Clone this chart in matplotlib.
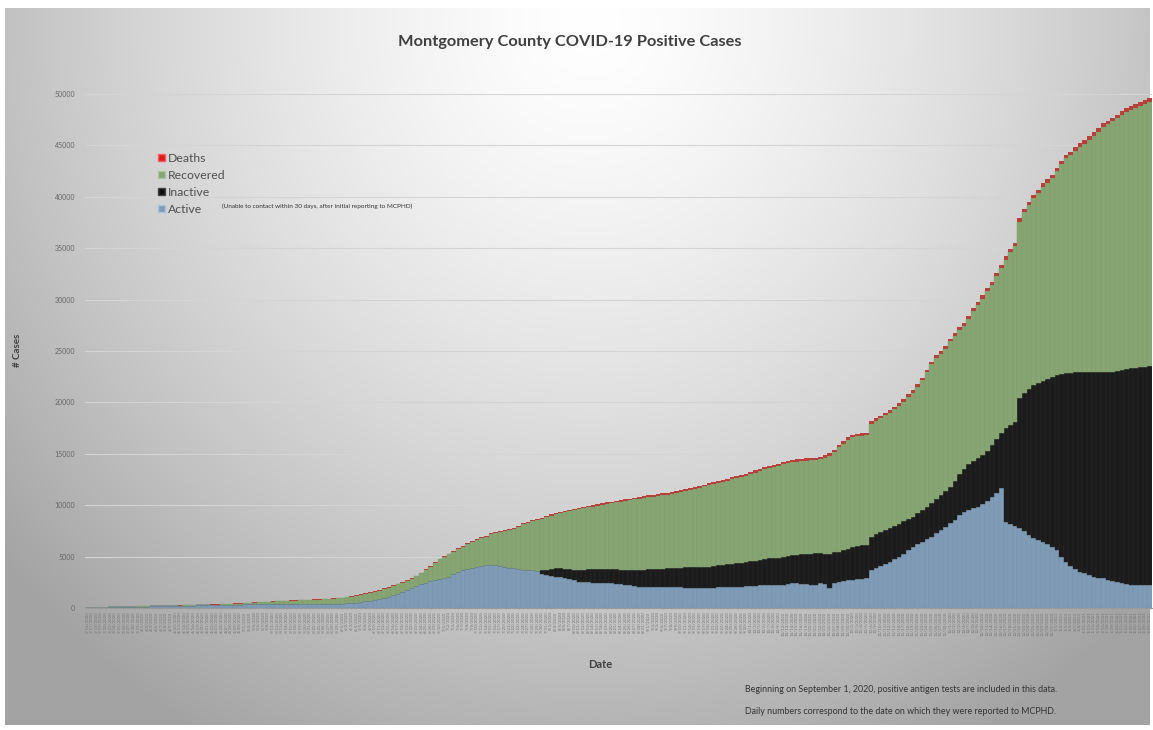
import numpy as np
import pandas as pd
import matplotlib
matplotlib.use("Agg")
import matplotlib.pyplot as plt
from matplotlib.patches import Patch

plt.rcParams['font.family'] = ['Lato', 'DejaVu Sans']

# one bar per reporting weekday
dates = pd.bdate_range('2020-03-16', periods=230)
date_labels = [f"{d.month}/{d.day}/{d.year}" for d in dates]

# top of the whole stack (all positive cases)
total_cases = [
    0, 10, 20, 30, 40, 50, 60, 80, 100, 120, 140,
    150, 160, 180, 190, 200, 210, 220, 230, 240, 250,
    260, 280, 290, 300, 320, 330, 350, 360, 380, 400,
    420, 440, 460, 490, 510, 540, 570, 600, 620, 650,
    680, 700, 720, 740, 760, 780, 800, 820, 840, 860,
    880, 910, 940, 980, 1020, 1080, 1150, 1250, 1350, 1450,
    1550, 1650, 1750, 1900, 2050, 2200, 2350, 2500, 2700, 2900,
    3150, 3450, 3750, 4100, 4450, 4800, 5050, 5300, 5550, 5800,
    6050, 6300, 6500, 6700, 6900, 7050, 7250, 7350, 7450, 7550,
    7650, 7800, 8000, 8250, 8400, 8550, 8650, 8800, 8950, 9100,
    9250, 9350, 9450, 9550, 9650, 9730, 9830, 9930, 10000, 10100,
    10200, 10300, 10350, 10420, 10500, 10580, 10650, 10720, 10800, 10870,
    10950, 11000, 11070, 11140, 11200, 11300, 11380, 11480, 11580, 11680,
    11780, 11900, 12000, 12130, 12230, 12350, 12450, 12580, 12700, 12800,
    12940, 13080, 13220, 13380, 13530, 13680, 13800, 13910, 14050, 14200,
    14300, 14400, 14450, 14500, 14550, 14580, 14620, 14700, 14850, 15050,
    15400, 15850, 16200, 16600, 16830, 16950, 17000, 17050, 18150, 18450,
    18700, 19000, 19260, 19600, 19900, 20300, 20800, 21210, 21800, 22400,
    23200, 23960, 24600, 25000, 25500, 26200, 26720, 27300, 27700, 28400,
    29150, 29800, 30400, 31100, 31750, 32600, 33370, 34200, 34900, 35500,
    37900, 38800, 39500, 40180, 40700, 41300, 41700, 42120, 42800, 43500,
    44070, 44400, 44800, 45200, 45530, 45900, 46300, 46700, 47150, 47400,
    47700, 48000, 48300, 48610, 48800, 49000, 49200, 49400, 49580,
]

active = [
    0, 10, 20, 30, 40, 50, 60, 70, 90, 100, 110,
    120, 130, 140, 150, 160, 170, 180, 190, 200, 210,
    220, 230, 240, 250, 260, 270, 280, 290, 300, 310,
    320, 330, 340, 350, 360, 370, 380, 390, 390, 400,
    400, 400, 400, 400, 400, 400, 400, 400, 400, 400,
    400, 400, 400, 410, 420, 440, 470, 520, 580, 650,
    720, 780, 850, 950, 1080, 1220, 1380, 1550, 1720, 1900,
    2100, 2300, 2450, 2600, 2750, 2850, 2950, 3050, 3300, 3530,
    3650, 3800, 3900, 4020, 4080, 4150, 4180, 4150, 4050, 3950,
    3890, 3850, 3780, 3700, 3680, 3650, 3630, 3300, 3200, 3150,
    3050, 2980, 2900, 2800, 2700, 2560, 2520, 2500, 2480, 2460,
    2440, 2430, 2400, 2350, 2300, 2250, 2200, 2150, 2080, 2080,
    2080, 2070, 2070, 2080, 2090, 2080, 2050, 2000, 1980, 1960,
    1950, 1950, 1960, 1950, 1980, 2000, 2020, 2040, 2060, 2070,
    2080, 2100, 2130, 2160, 2190, 2210, 2230, 2240, 2240, 2280,
    2350, 2430, 2400, 2350, 2300, 2260, 2240, 2400, 2350, 1950,
    2400, 2560, 2620, 2680, 2720, 2780, 2840, 2900, 3700, 3900,
    4100, 4300, 4510, 4750, 5000, 5300, 5650, 5970, 6200, 6450,
    6700, 6940, 7300, 7600, 7900, 8250, 8560, 9050, 9300, 9500,
    9700, 9860, 10100, 10400, 10830, 11200, 11640, 8400, 8200, 7950,
    7750, 7500, 7100, 6780, 6600, 6400, 6200, 5970, 5600, 5000,
    4510, 4100, 3800, 3550, 3370, 3200, 3050, 2950, 2890, 2750,
    2600, 2500, 2400, 2300, 2250, 2200, 2200, 2250, 2200,
]

# top of the black (inactive) band, from the first bar that has one
inactive_first_bar = 97
inactive_top = [
    3630, 3650, 3700, 3800,
    3890, 3850, 3800, 3760, 3720, 3700, 3720, 3750, 3780, 3790,
    3790, 3790, 3780, 3760, 3740, 3720, 3700, 3700, 3700, 3720,
    3750, 3780, 3800, 3830, 3860, 3890, 3900, 3920, 3940, 3960,
    3980, 4000, 4010, 4020, 4080, 4140, 4200, 4260, 4320, 4360,
    4380, 4450, 4530, 4610, 4690, 4760, 4820, 4860, 4880, 4950,
    5050, 5160, 5200, 5220, 5250, 5300, 5330, 5350, 5300, 5250,
    5400, 5480, 5600, 5750, 5970, 6050, 6100, 6130, 6940, 7150,
    7350, 7550, 7780, 8000, 8200, 8450, 8650, 8880, 9200, 9500,
    9850, 10180, 10600, 11000, 11400, 11800, 12400, 13000, 13500, 14000,
    14300, 14600, 14900, 15300, 15860, 16400, 16990, 17480, 17800, 18100,
    20400, 20900, 21300, 21690, 21900, 22100, 22300, 22500, 22650, 22750,
    22830, 22880, 22920, 22960, 22990, 23000, 22980, 22950, 22930, 22950,
    23000, 23050, 23150, 23250, 23300, 23350, 23400, 23450, 23500,
]

deaths = [
    0, 0, 0, 0, 0, 0, 0, 0, 0, 0,
    0, 0, 5, 5, 5, 5, 5, 5, 10, 10,
    10, 10, 10, 15, 15, 15, 15, 15, 20, 20,
    20, 20, 25, 25, 25, 25, 30, 30, 30, 30,
    30, 35, 35, 35, 35, 40, 40, 40, 40, 40,
    45, 45, 45, 45, 50, 50, 50, 50, 50, 55,
    55, 55, 55, 60, 60, 60, 60, 60, 65, 65,
    65, 65, 70, 70, 70, 75, 75, 75, 80, 80,
    80, 85, 85, 85, 90, 90, 95, 95, 100, 100,
    100, 105, 105, 110, 110, 110, 115, 115, 120, 120,
    120, 125, 125, 130, 130, 130, 135, 135, 140, 140,
    140, 145, 145, 145, 150, 150, 150, 155, 155, 155,
    160, 160, 160, 165, 165, 165, 170, 170, 170, 175,
    175, 175, 180, 180, 180, 185, 185, 185, 190, 190,
    190, 195, 195, 195, 200, 200, 200, 205, 205, 205,
    210, 210, 210, 210, 215, 215, 215, 215, 220, 220,
    220, 220, 225, 225, 225, 230, 230, 230, 235, 235,
    235, 240, 240, 245, 245, 250, 250, 255, 255, 260,
    260, 265, 265, 270, 270, 275, 275, 280, 280, 285,
    285, 290, 290, 295, 295, 300, 300, 305, 305, 310,
    310, 315, 315, 320, 320, 325, 325, 330, 330, 335,
    335, 340, 340, 345, 345, 350, 350, 355, 355, 360,
    360, 365, 365, 370, 370, 375, 375, 380, 380, 385,
]

active = np.array(active, dtype=float)
total_cases = np.array(total_cases, dtype=float)
deaths = np.array(deaths, dtype=float)
inactive = np.zeros(len(active))
inactive[inactive_first_bar:] = np.array(inactive_top) - active[inactive_first_bar:]
recovered = np.clip(total_cases - deaths - active - inactive, 0, None)

fig = plt.figure(figsize=(11.53, 7.30), dpi=100)

# grey radial backdrop like the Excel chart area
W, H = 1145, 717
yy, xx = np.mgrid[0:H, 0:W]
d = np.sqrt((xx - 585.0) ** 2 + ((yy - 15.0) * 0.95) ** 2) / 780.0
shade = 255 - 92 * np.clip(d, 0, 1) ** 1.4
bg = fig.add_axes([5 / 1153, 1 - 725 / 730, W / 1153, H / 730])
bg.imshow(np.dstack([shade] * 3).astype(np.uint8), aspect='auto')
bg.axis('off')

ax = fig.add_axes([85 / 1153, 1 - 608 / 730, 1067 / 1153, 514 / 730])
ax.patch.set_alpha(0)

x = np.arange(len(active))
ax.bar(x, active, width=1.0, color='#7f9bb6', edgecolor='#7893ad', linewidth=0.3, zorder=2)
ax.bar(x, inactive, width=1.0, bottom=active, color='#1b1b1b', edgecolor='#2b2b2b',
       linewidth=0.3, zorder=2)
ax.bar(x, recovered, width=1.0, bottom=active + inactive, color='#86a572',
       edgecolor='#7e9c6b', linewidth=0.3, zorder=2)
ax.bar(x, deaths, width=1.0, bottom=active + inactive + recovered, color='#b8403b',
       linewidth=0, zorder=2)

ax.set_xlim(-0.5, len(active) - 0.5)
ax.set_ylim(0, 50000)
ax.set_yticks(np.arange(0, 50001, 5000))
ax.yaxis.grid(True, color='#d4d4d4', linewidth=0.8, zorder=0)
ax.set_axisbelow(True)
for s in ['top', 'right', 'left']:
    ax.spines[s].set_visible(False)
ax.spines['bottom'].set_color('#9a9a9a')
ax.spines['bottom'].set_linewidth(0.8)
ax.tick_params(axis='y', length=0, labelsize=5, labelcolor='#666666', pad=7)
ax.set_xticks(x)
ax.set_xticklabels(date_labels, rotation=90, fontsize=3.2, color='#777777')
ax.tick_params(axis='x', length=1.5, width=0.3, color='#9a9a9a', pad=1)

fig.text(0.494, 1 - 42 / 730, 'Montgomery County COVID-19 Positive Cases', ha='center',
         va='center', fontsize=11.8, fontweight='bold', color='#404040')
fig.text(18 / 1153, 1 - 350 / 730, '# Cases', rotation=90, ha='center', va='center',
         fontsize=7, fontweight='bold', color='#404040')
fig.text(600 / 1153, 1 - 665 / 730, 'Date', ha='center', va='center', fontsize=8,
         fontweight='bold', color='#404040')

handles = [Patch(facecolor='#e01b1b', edgecolor='#f06060', label='Deaths'),
           Patch(facecolor='#86a572', edgecolor='#a9c79a', label='Recovered'),
           Patch(facecolor='#111111', edgecolor='#444444', label='Inactive'),
           Patch(facecolor='#7f9bb6', edgecolor='#a8c4e0', label='Active')]
fig.legend(handles=handles, loc='upper left', bbox_to_anchor=(152 / 1153, 1 - 147 / 730),
           frameon=False, fontsize=8.8, labelcolor='#505050', handlelength=0.55,
           handleheight=0.55, handletextpad=0.25, labelspacing=0.48, borderpad=0)
fig.text(222 / 1153, 1 - 206 / 730,
         '(Unable to contact within 30 days, after initial reporting to MCPHD)',
         ha='left', va='center', fontsize=4.6, color='#333333')

fig.text(745 / 1153, 1 - 690 / 730,
         'Beginning on September 1, 2020, positive antigen tests are included in this data.',
         ha='left', va='center', fontsize=6.4, color='#333333')
fig.text(745 / 1153, 1 - 712 / 730,
         'Daily numbers correspond to the date on which they were reported to MCPHD.',
         ha='left', va='center', fontsize=6.4, color='#333333')

fig.savefig('out.png', dpi=100)
